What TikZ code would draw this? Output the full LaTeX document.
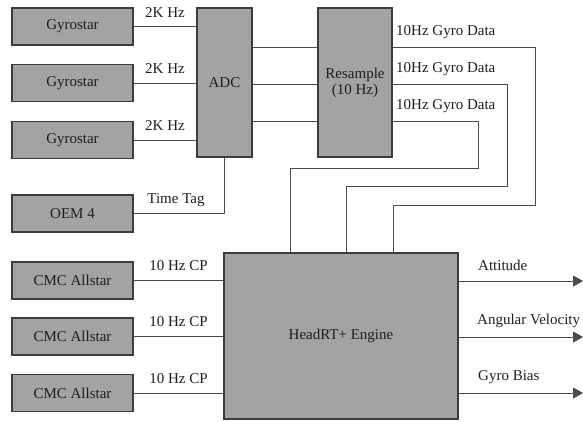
\documentclass[tikz,border=0pt]{standalone}
\usepackage{fontspec}
\setmainfont{Liberation Serif}
\usetikzlibrary{arrows.meta}
\definecolor{boxfill}{RGB}{163,163,163}
\definecolor{boxedge}{RGB}{60,60,60}
\definecolor{wire}{RGB}{75,75,75}
\definecolor{ink}{RGB}{30,30,30}
\begin{document}
\begin{tikzpicture}[x=1pt,y=-1pt,
  blk/.style={draw=boxedge,line width=1.4pt,fill=boxfill,inner sep=0pt,text=ink,
    font=\rmfamily\fontsize{15}{16}\selectfont,align=center},
  src/.style={blk,minimum width=121pt,minimum height=37pt},
  conn/.style={draw=wire,line width=1pt},
  outconn/.style={conn,-{Triangle[length=10pt,width=11pt]}},
  lbl/.style={text=ink,font=\rmfamily\fontsize{15}{16}\selectfont,inner sep=0pt}]
\useasboundingbox (0,0) rectangle (583,421);
% sources
\node[src] (g1) at (72.5,26.5) {Gyrostar};
\node[src] (g2) at (72.5,83) {Gyrostar};
\node[src] (g3) at (72.5,140) {Gyrostar};
\node[src] (oem) at (72.5,213.5) {OEM 4};
\node[src] (c1) at (72.5,280.5) {CMC Allstar};
\node[src] (c2) at (72.5,336.5) {CMC Allstar};
\node[src] (c3) at (72.5,393) {CMC Allstar};
% processing
\node[blk,minimum width=55pt,minimum height=149pt] (adc) at (224.5,82.5) {ADC};
\node[blk,minimum width=74pt,minimum height=149pt] (res) at (355,82.5) {Resample\\(10 Hz)};
\node[blk,minimum width=234pt,minimum height=166pt] (eng) at (341,336) {HeadRT+ Engine};
% gyro -> adc
\foreach \g in {g1,g2,g3}{
  \draw[conn] (\g.east) -- (adc.west |- \g.east) node[lbl,midway,above=9pt] {2K Hz};
}
% oem time tag
\coordinate (tt) at (adc.south |- oem.east);
\draw[conn] (adc.south) -- (tt) -- (oem.east);
\node[lbl] (ttl) at (176,200) {Time Tag};
% adc -> resample
\foreach \yy in {47,84,121}{
  \draw[conn] (adc.east |- 0,\yy) -- (res.west |- 0,\yy);
}
% resample -> engine
\coordinate (r1) at (res.east |- 0,47);
\coordinate (r2) at (res.east |- 0,84);
\coordinate (r3) at (res.east |- 0,121);
\draw[conn] (r1) -- (535,47) -- (535,205) -- (393,205) -- (eng.north -| 393,0);
\draw[conn] (r2) -- (507,84) -- (507,186) -- (346,186) -- (eng.north -| 346,0);
\draw[conn] (r3) -- (478,121) -- (478,168) -- (290,168) -- (eng.north -| 290,0);
\node[lbl,anchor=west] (d1) at (396,32) {10Hz Gyro Data};
\node[lbl,anchor=west] (d2) at (396,69) {10Hz Gyro Data};
\node[lbl,anchor=west] (d3) at (396,106) {10Hz Gyro Data};
% cmc -> engine
\foreach \c in {c1,c2,c3}{
  \draw[conn] (\c.east) -- (eng.west |- \c.east) node[lbl,midway,above=9pt] {10 Hz CP};
}
% outputs
\coordinate (o1) at (583,281);
\coordinate (o2) at (583,337);
\coordinate (o3) at (583,393);
\draw[outconn] (eng.east |- o1) -- (o1);
\draw[outconn] (eng.east |- o2) -- (o2);
\draw[outconn] (eng.east |- o3) -- (o3);
\node[lbl,anchor=west] (a1) at (478,265) {Attitude};
\node[lbl,anchor=west] (a2) at (477,321) {Angular Velocity};
\node[lbl,anchor=west] (a3) at (478,377) {Gyro Bias};
\end{tikzpicture}
\end{document}
